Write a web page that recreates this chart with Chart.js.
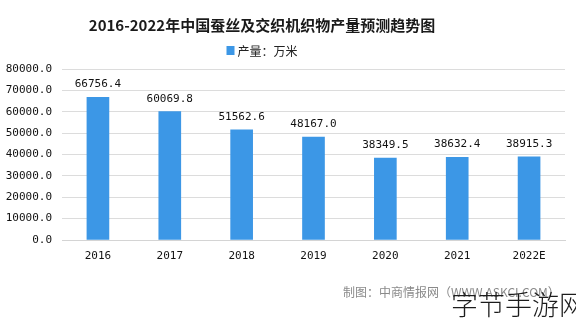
<!DOCTYPE html>
<html>
<head>
<meta charset="utf-8">
<script src="https://cdn.jsdelivr.net/npm/chart.js@4.4.1/dist/chart.umd.min.js"></script>
<style>
  html, body { margin: 0; padding: 0; background: #ffffff; }
  #wrap { width: 576px; height: 323px; position: relative; }
</style>
</head>
<body>
<div id="wrap"><canvas id="c" width="576" height="323"></canvas></div>
<script>
// 2016-2022E silk and interwoven fabric output, unit: 10k metres
const years = ['2016', '2017', '2018', '2019', '2020', '2021', '2022E'];
const output = [66756.4, 60069.8, 51562.6, 48167.0, 38349.5, 38632.4, 38915.3];
const yTicks = [0, 10000, 20000, 30000, 40000, 50000, 60000, 70000, 80000];

const chartTitle = '2016-2022年中国蚕丝及交织机织物产量预测趋势图';
const seriesLabel = '产量：万米';
const sourceNote = '制图：中商情报网（WWW.ASKCI.COM）';
const siteMark = '字节手游网';

const barColor = '#3C97E6';
const monoFont = '"DejaVu Sans Mono", "Liberation Mono", monospace';
const cjkFont = '"Noto Sans CJK SC", "Noto Sans", sans-serif';

// title, legend, value labels and footer text
const decor = {
  id: 'decor',
  afterDatasetsDraw(chart) {
    const ctx = chart.ctx;
    ctx.save();
    // value labels above each bar
    const meta = chart.getDatasetMeta(0);
    ctx.fillStyle = '#111';
    ctx.font = '11px ' + monoFont;
    ctx.textAlign = 'center';
    ctx.textBaseline = 'alphabetic';
    meta.data.forEach((bar, i) => {
      ctx.fillText(output[i].toFixed(1), bar.x, bar.y - 10);
    });
    ctx.restore();
  },
  afterDraw(chart) {
    const ctx = chart.ctx;
    ctx.save();
    const cx = 262;
    // title
    ctx.fillStyle = '#1a1a1a';
    ctx.font = 'bold 15px ' + cjkFont;
    ctx.textAlign = 'center';
    ctx.textBaseline = 'middle';
    ctx.fillText(chartTitle, cx, 25);
    // legend
    const ds = chart.data.datasets[0];
    ctx.font = '12px ' + cjkFont;
    const tw = ctx.measureText(ds.label).width;
    const total = 8 + 3 + tw;
    const lx = cx - total / 2;
    ctx.fillStyle = ds.backgroundColor;
    ctx.fillRect(lx, 46, 8, 9);
    ctx.fillStyle = '#222';
    ctx.textAlign = 'left';
    ctx.fillText(ds.label, lx + 11, 51);
    // source note
    ctx.fillStyle = '#8a8a8a';
    ctx.font = '12px ' + cjkFont;
    ctx.textAlign = 'left';
    ctx.fillText(sourceNote, 343, 292);
    // site mark
    ctx.fillStyle = '#1c1c1c';
    ctx.font = '300 27px ' + cjkFont;
    ctx.fillText(siteMark, 451, 305);
    ctx.restore();
  }
};

new Chart(document.getElementById('c'), {
  type: 'bar',
  data: {
    labels: years,
    datasets: [{
      label: seriesLabel,
      data: output,
      backgroundColor: barColor,
      borderWidth: 0,
      barThickness: 22
    }]
  },
  options: {
    responsive: false,
    animation: false,
    layout: { padding: { top: 69, right: 11, left: 0, bottom: 0 } },
    plugins: {
      legend: { display: false },
      title: { display: false },
      tooltip: { enabled: false }
    },
    scales: {
      x: {
        grid: { display: false, drawTicks: false },
        border: { display: true, color: '#d4d4d4', width: 1 },
        ticks: {
          padding: 10,
          color: '#111',
          font: { family: monoFont, size: 11 }
        },
        afterFit(scale) { scale.height = 83; }
      },
      y: {
        min: 0,
        max: 80000,
        afterBuildTicks(scale) { scale.ticks = yTicks.map(v => ({ value: v })); },
        grid: { color: '#dcdcdc', drawTicks: false, lineWidth: 1 },
        border: { display: false },
        ticks: {
          padding: 10,
          color: '#111',
          font: { family: monoFont, size: 11 },
          callback: v => Number(v).toFixed(1)
        },
        afterFit(scale) { scale.width = 62; }
      }
    }
  },
  plugins: [decor]
});
</script>
</body>
</html>
